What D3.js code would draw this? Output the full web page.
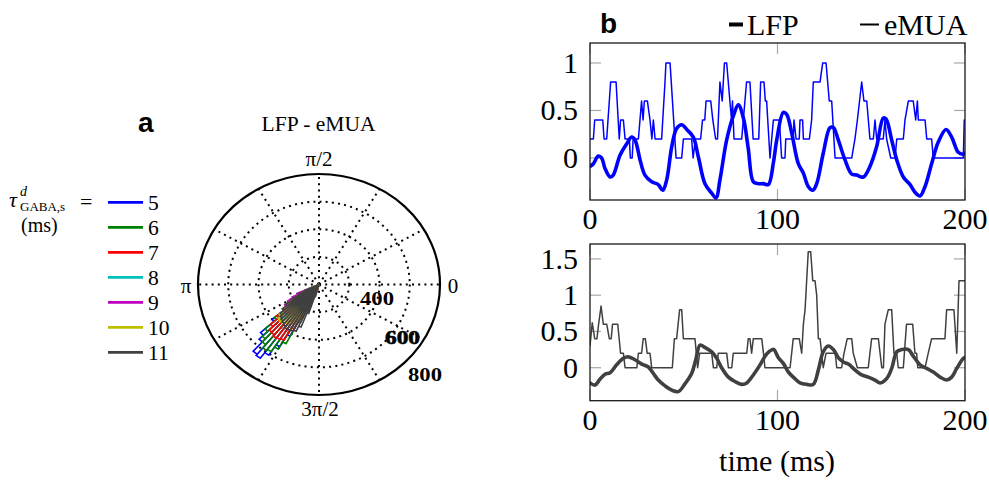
<!DOCTYPE html>
<html><head><meta charset="utf-8">
<script src="https://cdn.jsdelivr.net/npm/d3@7"></script>
<style>body{margin:0;background:#fff}svg{display:block}</style>
</head><body>
<svg id="c" width="989" height="481"></svg>
<script>
// ---------- data ----------
const tauLabels = ["5","6","7","8","9","10","11"];
const tauColors = ["#0000ff","#008000","#ff0000","#00bfbf","#bf00bf","#bfbf00","#404040"];
const binStartDeg = 204, binWidthDeg = 3;
// rose histogram counts (bins of 3 deg starting at 204 deg)
const rose5  = [60,90,130,180,260,400,520,560,650,660,610,520,420,280,170,90,40];
const rose6  = [60,90,130,180,250,380,480,530,560,590,580,540,480,300,180,90,40];
const rose7  = [60,90,130,180,250,360,430,465,470,480,475,465,360,260,160,80,40];
const rose8  = [80,130,190,250,280,320,340,330,320,300,280,250,220,180,130,70,30];
const rose9  = [160,200,240,270,290,300,300,290,280,270,250,220,180,140,100,60,30];
const rose10 = [80,130,180,240,300,340,365,370,360,350,340,320,280,220,150,70,30];
const rose11 = [100,150,200,260,300,330,345,355,365,375,385,385,380,370,330,220,90];
const roseCounts = [rose5,rose6,rose7,rose8,rose9,rose10,rose11];
const ringTicks = [200,400,600];
const rMax = 800;
const spokeAngles = [0,30,60,90,120,150,180,210,240,270,300,330];
const angleLabels = [{a:0,t:"0"},{a:90,t:"π/2"},{a:180,t:"π"},{a:270,t:"3π/2"}];
const ringLabels = ["400","600","800"];

const timeTicks = [0,100,200];
const topYTicks = [0,0.5,1];
const botYTicks = [0,0.5,1,1.5];
// top panel (blue): LFP (thick) and eMUA (thin), [time ms, value]
const lfpTop = [[0,-0.09],[1.8,-0.06],[4.4,0.02],[6.2,0],[8,-0.11],[10.7,-0.2],[12.4,-0.18],[16,0.03],[19.6,0.15],[22.2,0.22],[24,0.19],[26.7,-0.02],[29.3,-0.18],[32.9,-0.25],[36.4,-0.28],[38.8,-0.34],[40.9,-0.23],[43.6,0.12],[46.2,0.31],[48.9,0.35],[51.6,0.30],[55.1,0.22],[57.8,0.01],[61.3,-0.27],[64.9,-0.37],[67.2,-0.42],[69.3,-0.23],[72.9,0.19],[76.4,0.44],[79.1,0.56],[81.8,0.42],[84.4,0.10],[87.1,-0.25],[89.8,-0.27],[92.4,-0.27],[95.1,-0.28],[97.8,-0.05],[99.6,0.19],[103.1,0.48],[104.9,0.46],[107.6,0.26],[111.1,-0.06],[113.8,-0.16],[116.4,-0.30],[118.8,-0.34],[120.9,-0.27],[124.4,0.05],[128,0.32],[129.8,0.32],[132.4,0.19],[136,-0.02],[139.6,-0.17],[142.2,-0.18],[145.8,-0.2],[149.3,-0.09],[152.9,0.12],[156.4,0.42],[157.9,0.41],[160.9,0.19],[163.6,-0.02],[167.1,-0.2],[170.7,-0.28],[173.3,-0.36],[176,-0.40],[178.7,-0.30],[182.2,-0.06],[185.8,0.17],[189.9,0.30],[192.9,0.22],[196.4,0.06],[199.1,0.04],[200,0.05]];
const muaTop = [[0,0.2],[1.8,0.2],[2.5,0.4],[6.8,0.4],[7.5,0.2],[8.9,0.2],[11,0.8],[13.9,0.8],[15.6,0.2],[16.3,0.4],[17.8,0.4],[18.7,0.2],[21,0.2],[21.5,0],[22.5,0],[23,0.2],[25.8,0.2],[27.5,0.6],[28.3,0.4],[29,0.6],[30.6,0.6],[32,0.4],[33,0.2],[33.8,0.4],[34.7,0.2],[38.2,0.2],[40,0.8],[40.5,1],[42.7,1],[45.9,0],[48.9,0],[49.8,0.2],[54.2,0.2],[55,0],[56.2,0.2],[59,0.2],[60,0.4],[61.2,0.4],[61.9,0.6],[64.4,0.6],[65.5,0.4],[67,0.2],[68,0.2],[69.3,0.8],[70.5,0.6],[71.7,1],[72.9,1],[74.6,0.6],[75.5,0.4],[76,0.6],[76.8,0.2],[80.9,0.2],[83.5,0.8],[85.3,0.8],[87,0.2],[90,0.2],[91,0.8],[92.8,0.8],[93.5,0.6],[94.2,0.6],[96,0],[97.8,0.4],[101,0.4],[102.2,0],[104,0],[104.4,0.2],[108.4,0.2],[108.8,0.4],[109.9,0.2],[111.6,0.2],[112,0.4],[113.4,0.4],[113.8,0.2],[117,0.2],[118.2,0.4],[119.1,0.8],[122.7,0.8],[124.1,1],[125.9,1],[127.6,0.6],[128.9,0.6],[130.7,0],[139.6,0],[141.3,0.2],[142.6,0.4],[144.9,0.8],[146.1,0.6],[147.6,0.6],[149.3,0.2],[151.1,0.2],[152,0.4],[152.9,0.2],[156.4,0.2],[157.3,0.4],[158.2,0.2],[160.4,0],[162.7,0],[163.6,0.2],[167.1,0.2],[168,0.4],[169.8,0.6],[172.4,0.6],[173.7,0.4],[174.6,0.6],[175.1,0.4],[178.7,0.4],[179.6,0.2],[182.2,0.2],[183.1,0],[199.1,0],[199.6,0.4],[200,0.4]];
// bottom panel (dark grey)
const lfpBot = [[0,-0.21],[2.7,-0.24],[5.3,-0.16],[8,-0.09],[10.7,-0.07],[14.2,0.04],[17.8,0.13],[20.4,0.15],[24,0.11],[27.6,0.05],[31.1,0.01],[33.8,-0.08],[36.4,-0.17],[40,-0.25],[43.6,-0.31],[47.1,-0.33],[50.7,-0.22],[54.2,-0.08],[56.4,0.11],[58.7,0.31],[61.3,0.28],[64.9,0.22],[67.6,0.13],[70.2,0],[73.8,-0.13],[77.3,-0.19],[80.9,-0.23],[83.6,-0.21],[87.1,-0.10],[90.7,0.04],[94.2,0.19],[97.2,0.25],[98.1,0.25],[100.4,0.14],[103.1,0.06],[105.8,-0.06],[108.4,-0.13],[112,-0.21],[115.6,-0.23],[119.1,-0.23],[121.8,-0.03],[124.4,0.22],[127.1,0.30],[129.8,0.25],[132.4,0.14],[135.1,0.08],[137.8,0.05],[141.3,-0.03],[144.9,-0.10],[148.4,-0.13],[152,-0.17],[154.7,-0.21],[158.2,-0.15],[160.9,-0.01],[163.6,0.22],[166.2,0.25],[169.8,0.25],[172.4,0.16],[176,0.04],[179.6,-0.01],[183.1,-0.06],[186.7,-0.13],[190.2,-0.17],[192.9,-0.13],[195.6,-0.01],[199.1,0.13],[200,0.14]];
const muaBot = [[0,0.3],[1.2,0.62],[2.5,0.4],[3.7,0.4],[4.6,0.6],[5.9,0.85],[7.1,0.6],[8.9,0.6],[10.3,0.4],[11.3,0.4],[12,0.6],[14.8,0.6],[16.3,0.2],[17.8,0.2],[18.7,0],[25,0],[25.8,0.2],[27.5,0.2],[28.4,0.4],[29.5,0.4],[30.5,0.2],[32,0.2],[32.9,0],[43.9,0],[45,0.4],[46.2,0.4],[47.8,0.8],[48.9,0.8],[49.8,0.4],[56,0.4],[57.4,0],[58.5,0.2],[64.9,0.2],[65.8,0],[67.6,0],[68.4,0.2],[72.9,0.2],[73.8,0],[75.6,0],[76.4,0.2],[83.6,0.2],[84.4,0.4],[85.3,0.4],[86.2,0.2],[87.1,0.4],[91.6,0.4],[92.5,0.2],[93.3,0],[106.7,0],[108.4,0.4],[111.6,0.4],[112.9,0.2],[113.8,0.6],[114.7,0.8],[116.4,1.6],[117.7,1.6],[118.8,1.2],[120,1.2],[120.9,1.0],[121.8,0.4],[122.7,0.4],[124.4,0],[125.9,0.2],[130.8,0.2],[131.6,0],[134.2,0],[135.5,0.2],[137.2,0.4],[139.6,0.4],[140.4,0.2],[142.6,0],[148.4,0],[150.2,0.4],[153.8,0.4],[155.6,0],[156.5,0],[157.3,0.6],[159.1,0.8],[160.9,0.8],[162.1,0.2],[163.6,0.2],[164.4,0],[167.1,0],[168.8,0.6],[172.1,0.6],[173.3,0.2],[174.2,0.2],[174.8,0],[178.7,0],[180.4,0.2],[182.2,0.4],[189.3,0.4],[190.2,0.8],[194.1,0.8],[195.6,0.2],[196.8,1.2],[200,1.2]];

// ---------- drawing ----------
const svg = d3.select("#c");
const serif = "'Liberation Serif','Times New Roman',serif";
const sans = "'Liberation Sans',Arial,sans-serif";

// ===== Panel a =====
svg.append("text").attr("x",138).attr("y",132).attr("font-family",sans).attr("font-weight","bold")
  .attr("font-size",28).text("a");
svg.append("text").attr("x",318.5).attr("y",131).attr("text-anchor","middle").attr("font-family",serif)
  .attr("font-size",21.5).text("LFP - eMUA");

const cx = 319, cy = 284.5;
const rX = d3.scaleLinear().domain([0,rMax]).range([0,121]);
const rY = d3.scaleLinear().domain([0,rMax]).range([0,110.5]);
const P = (r,deg) => { const a = deg*Math.PI/180; return [cx + rX(r)*Math.cos(a), cy - rY(r)*Math.sin(a)]; };

const polar = svg.append("g");
spokeAngles.forEach(a => {
  const p = P(rMax,a);
  polar.append("line").attr("x1",cx).attr("y1",cy).attr("x2",p[0]).attr("y2",p[1])
    .attr("stroke","#000").attr("stroke-width",2).attr("stroke-dasharray","2 4.2");
});
ringTicks.forEach(r => {
  polar.append("ellipse").attr("cx",cx).attr("cy",cy).attr("rx",rX(r)).attr("ry",rY(r))
    .attr("fill","none").attr("stroke","#000").attr("stroke-width",2).attr("stroke-dasharray","2 4.2");
});
polar.append("ellipse").attr("cx",cx).attr("cy",cy).attr("rx",rX(rMax)).attr("ry",rY(rMax))
  .attr("fill","none").attr("stroke","#000").attr("stroke-width",2.2);

roseCounts.forEach((counts,i) => {
  let d = "";
  counts.forEach((c,k) => {
    const a1 = binStartDeg + k*binWidthDeg, a2 = a1 + binWidthDeg;
    const p1 = P(c,a1), p2 = P(c,a2);
    d += `M${cx},${cy}L${p1[0]},${p1[1]}L${p2[0]},${p2[1]}L${cx},${cy}`;
  });
  polar.append("path").attr("d",d).attr("fill","none").attr("stroke",tauColors[i])
    .attr("stroke-width",1.6).attr("stroke-linejoin","miter");
});

const angPos = {0:[453,293],90:[319,166],180:[186,293],270:[320,416]};
angleLabels.forEach(l => {
  polar.append("text").attr("x",angPos[l.a][0]).attr("y",angPos[l.a][1]).attr("text-anchor","middle")
    .attr("font-family",serif).attr("font-size",21).text(l.t);
});
const ringLabPos = [[360,305],[385,344],[408,381]];
ringLabels.forEach((v,i) => {
  polar.append("text").attr("x",ringLabPos[i][0]).attr("y",ringLabPos[i][1]).attr("font-family",serif).attr("font-weight","bold")
    .attr("font-size",19).attr("textLength",i===1?35:34).attr("lengthAdjust","spacingAndGlyphs")
    .attr("stroke",i===1?"#000":"none").attr("stroke-width",0.6).text(v);
});

// legend for tau
const leg = svg.append("g");
const tauText = leg.append("text").attr("font-family",serif).attr("font-size",22);
tauText.append("tspan").attr("x",9).attr("y",207).attr("font-style","italic").text("τ");
tauText.append("tspan").attr("x",20).attr("y",196).attr("font-style","italic").attr("font-size",14).text("d");
tauText.append("tspan").attr("x",20).attr("y",211).attr("font-size",13).text("GABA,s");
tauText.append("tspan").attr("x",80).attr("y",209).text("=");
leg.append("text").attr("x",21).attr("y",232).attr("font-family",serif).attr("font-size",20).text("(ms)");
tauLabels.forEach((t,i) => {
  const y = 202.3 + i*25;
  leg.append("line").attr("x1",108).attr("x2",143).attr("y1",y).attr("y2",y)
    .attr("stroke",tauColors[i]).attr("stroke-width",2.8);
  leg.append("text").attr("x",148).attr("y",y+7.5).attr("font-family",serif).attr("font-size",21.5).text(t);
});

// ===== Panel b =====
svg.append("text").attr("x",600).attr("y",33).attr("font-family",sans).attr("font-weight","bold")
  .attr("font-size",28).text("b");
svg.append("line").attr("x1",729).attr("x2",743).attr("y1",24.5).attr("y2",24.5).attr("stroke","#000").attr("stroke-width",4);
svg.append("text").attr("x",747).attr("y",35).attr("font-family",serif).attr("font-size",30).text("LFP");
svg.append("line").attr("x1",860).attr("x2",879).attr("y1",24.5).attr("y2",24.5).attr("stroke","#000").attr("stroke-width",2);
svg.append("text").attr("x",884).attr("y",35).attr("font-family",serif).attr("font-size",30).text("eMUA");

const x = d3.scaleLinear().domain([0,200]).range([590,965]);
const yTop = d3.scaleLinear().domain([-0.442,1.21]).range([200,43]);
const yBot = d3.scaleLinear().domain([-0.455,1.706]).range([400.7,244]);

function panel(y, yTicks, lfp, mua, color, labelY) {
  const g = svg.append("g");
  const [y0,y1] = y.range();
  const x0 = x.range()[0], x1 = x.range()[1];
  const clipId = "clip" + Math.round(y1);
  g.append("clipPath").attr("id",clipId).append("rect").attr("x",x0).attr("y",y1).attr("width",x1-x0).attr("height",y0-y1);
  yTicks.forEach(v => {
    g.append("line").attr("x1",x0).attr("x2",x0+11).attr("y1",y(v)).attr("y2",y(v)).attr("stroke","#a8a8a8").attr("stroke-width",1.2);
    g.append("line").attr("x1",x1-11).attr("x2",x1).attr("y1",y(v)).attr("y2",y(v)).attr("stroke","#a8a8a8").attr("stroke-width",1.2);
    g.append("text").attr("x",578).attr("y",y(v)+10).attr("text-anchor","end").attr("font-family",serif)
      .attr("font-size",30).text(v);
  });
  timeTicks.forEach(t => {
    g.append("line").attr("x1",x(t)).attr("x2",x(t)).attr("y1",y0).attr("y2",y0-11).attr("stroke","#a8a8a8").attr("stroke-width",1.2);
    g.append("line").attr("x1",x(t)).attr("x2",x(t)).attr("y1",y1).attr("y2",y1+11).attr("stroke","#a8a8a8").attr("stroke-width",1.2);
    g.append("text").attr("x",x(t)).attr("y",labelY).attr("text-anchor","middle").attr("font-family",serif)
      .attr("font-size",30).text(t);
  });
  const line = d3.line().x(d=>x(d[0])).y(d=>y(d[1]));
  g.append("path").attr("clip-path",`url(#${clipId})`).attr("d",line(mua)).attr("fill","none")
    .attr("stroke",color).attr("stroke-width",1.5).attr("stroke-linejoin","round");
  const smooth = d3.line().x(d=>x(d[0])).y(d=>y(d[1])).curve(d3.curveCatmullRom.alpha(0.5));
  g.append("path").attr("clip-path",`url(#${clipId})`).attr("d",smooth(lfp)).attr("fill","none")
    .attr("stroke",color).attr("stroke-width",3.6).attr("stroke-linejoin","round").attr("stroke-linecap","round");
  g.append("rect").attr("x",x0).attr("y",y1).attr("width",x1-x0).attr("height",y0-y1)
    .attr("fill","none").attr("stroke","#1a1a1a").attr("stroke-width",1.3);
}
panel(yTop, topYTicks, lfpTop, muaTop, "#0000ff", 229);
panel(yBot, botYTicks, lfpBot, muaBot, "#404040", 430);

svg.append("text").attr("x",777).attr("y",471).attr("text-anchor","middle").attr("font-family",serif)
  .attr("font-size",30).text("time (ms)");
</script>
</body></html>
